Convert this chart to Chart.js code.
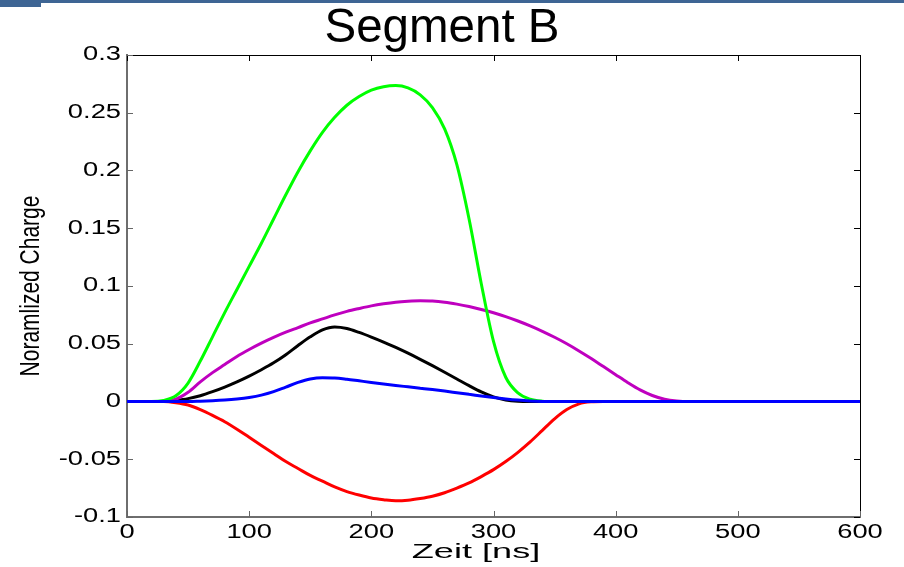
<!DOCTYPE html>
<html>
<head>
<meta charset="utf-8">
<script src="https://cdn.jsdelivr.net/npm/chart.js@4.4.1/dist/chart.umd.min.js"></script>
<style>
  html, body { margin: 0; padding: 0; background: #ffffff; }
  #wrap { position: relative; width: 904px; height: 567px; overflow: hidden; }
  #topline { position: absolute; left: 0; top: 0; width: 904px; height: 3px; background: #3e6594; }
  #topblock { position: absolute; left: 0; top: 0; width: 41px; height: 7px; background: #3e6594; }
  canvas { position: absolute; left: 0; top: 0; }
</style>
</head>
<body>
<div id="wrap">
  <canvas id="chart" width="904" height="567"></canvas>
  <div id="topline"></div>
  <div id="topblock"></div>
</div>
<script>
// Sampling times (ns)
const timeNs = [0,10,20,30,40,50,60,70,80,90,100,110,120,130,140,150,160,170,180,190,200,
  210,220,230,240,250,260,270,280,290,300,310,320,330,340,350,360,370,380,390,400,
  410,420,430,440,450,460,480,500,550,600];

// Normalized charge per electrode
const chargeGreen = [0,0,0,0.001,0.005,0.016,0.035,0.056,0.077,0.097,0.117,0.137,0.158,0.179,0.199,0.217,
  0.233,0.246,0.2565,0.264,0.2695,0.2725,0.2735,0.2715,0.2655,0.2545,0.236,0.205,0.158,0.102,0.052,0.021,
  0.0075,0.002,0.0003,0,0,0,0,0,0,0,0,0,0,0,0,0,0,0,0];
const chargeMagenta = [0,0,0,0,0.002,0.008,0.017,0.025,0.032,0.039,0.045,0.0505,0.0555,0.06,0.064,0.068,
  0.0715,0.075,0.078,0.0805,0.0828,0.0846,0.086,0.0868,0.0872,0.087,0.086,0.0843,0.0822,0.0797,0.0768,
  0.0735,0.0697,0.0655,0.0608,0.0556,0.05,0.0438,0.0372,0.0302,0.0232,0.0163,0.01,0.0052,0.002,0.0005,
  0,0,0,0,0];
const chargeBlack = [0,0,0,0,0.001,0.0025,0.005,0.0085,0.0125,0.017,0.022,0.0275,0.0335,0.0405,0.0485,
  0.056,0.062,0.0645,0.0632,0.0598,0.0558,0.0515,0.0468,0.0418,0.0365,0.031,0.0253,0.0195,0.0137,0.0083,
  0.004,0.0013,0.0002,0,0,0,0,0,0,0,0,0,0,0,0,0,0,0,0,0,0];
const chargeBlue = [0,0,0,0,0,0,0.0003,0.0007,0.0013,0.0022,0.0035,0.0055,0.0085,0.0125,0.0165,0.0195,
  0.0206,0.0204,0.0193,0.0179,0.0165,0.0152,0.0139,0.0127,0.0115,0.0103,0.009,0.0076,0.0062,0.0048,0.0034,
  0.0022,0.0012,0.0005,0.0001,0,0,0,0,0,0,0,0,0,0,0,0,0,0,0,0];
const chargeRed = [0,0,0,0,-0.001,-0.003,-0.007,-0.012,-0.0175,-0.024,-0.031,-0.038,-0.045,-0.052,-0.058,
  -0.064,-0.069,-0.074,-0.078,-0.081,-0.0835,-0.085,-0.086,-0.0855,-0.084,-0.082,-0.079,-0.075,-0.0705,
  -0.065,-0.059,-0.052,-0.044,-0.035,-0.025,-0.015,-0.007,-0.002,-0.0003,0,0,0,0,0,0,0,0,0,0,0,0];

// Axis ticks and their labels
const xTickValues = [0,100,200,300,400,500,600];
const xTickLabels = ['0','100','200','300','400','500','600'];
const yTickValues = [-0.1,-0.05,0,0.05,0.1,0.15,0.2,0.25,0.3];
const yTickLabels = ['-0.1','-0.05','0','0.05','0.1','0.15','0.2','0.25','0.3'];

const titleText = 'Segment B';
const xAxisTitle = 'Zeit [ns]';
const yAxisTitle = 'Noramlized Charge';

const toPoints = (ys) => timeNs.map((t, i) => ({ x: t, y: ys[i] }));

const FONT = '"Liberation Sans", Arial, Helvetica, sans-serif';
const STRETCH = 1.4;

function stretchedText(ctx, text, x, y, size, align, sx, rot) {
  ctx.save();
  ctx.translate(x, y);
  ctx.scale(sx, 1);
  if (rot) ctx.rotate(rot);
  ctx.font = size + 'px ' + FONT;
  ctx.fillStyle = '#000000';
  ctx.textAlign = align;
  ctx.textBaseline = 'middle';
  ctx.fillText(text, 0, 0);
  ctx.restore();
}

// Box outline, inward tick marks and all figure text
const frame = {
  id: 'frame',
  beforeDatasetsDraw(chart) {
    const { ctx, chartArea: a, scales: { x, y } } = chart;
    ctx.save();
    ctx.lineWidth = 1;
    ctx.strokeStyle = '#000000';
    ctx.beginPath();
    ctx.moveTo(a.left, a.top + 0.5);
    ctx.lineTo(a.right + 0.5, a.top + 0.5);
    ctx.lineTo(a.right + 0.5, a.bottom);
    ctx.stroke();
    const len = 6;
    xTickValues.forEach(v => {
      const px = Math.round(x.getPixelForValue(v)) + 0.5;
      ctx.strokeStyle = '#666666';
      ctx.beginPath(); ctx.moveTo(px, a.bottom); ctx.lineTo(px, a.bottom - len); ctx.stroke();
      ctx.strokeStyle = '#000000';
      ctx.beginPath(); ctx.moveTo(px, a.top); ctx.lineTo(px, a.top + len); ctx.stroke();
    });
    yTickValues.forEach(v => {
      const py = Math.round(y.getPixelForValue(v)) + 0.5;
      ctx.strokeStyle = '#666666';
      ctx.beginPath(); ctx.moveTo(a.left, py); ctx.lineTo(a.left + len, py); ctx.stroke();
      ctx.strokeStyle = '#000000';
      ctx.beginPath(); ctx.moveTo(a.right, py); ctx.lineTo(a.right - len, py); ctx.stroke();
    });
    ctx.restore();
  },
  afterDraw(chart) {
    const { ctx, chartArea: a, scales: { x, y } } = chart;
    xTickValues.forEach((v, i) => {
      stretchedText(ctx, xTickLabels[i], x.getPixelForValue(v), a.bottom + 16, 19.5, 'center', STRETCH);
    });
    yTickValues.forEach((v, i) => {
      stretchedText(ctx, yTickLabels[i], a.left - 6, y.getPixelForValue(v), 19.5, 'right', STRETCH);
    });
    stretchedText(ctx, xAxisTitle, 476, 552, 21, 'center', 1.72);
    stretchedText(ctx, yAxisTitle, 31, (a.top + a.bottom) / 2, 21, 'center', 1.3, -Math.PI / 2);
    stretchedText(ctx, titleText, 442, 29, 47.5, 'center', 1);
  }
};

const line = (data, color, order) => ({
  data: toPoints(data),
  borderColor: color,
  backgroundColor: color,
  borderWidth: 3,
  pointRadius: 0,
  fill: false,
  cubicInterpolationMode: 'monotone',
  order
});

new Chart(document.getElementById('chart'), {
  type: 'line',
  data: {
    datasets: [
      line(chargeBlue, '#0000ff', 0),
      line(chargeGreen, '#00ff00', 1),
      line(chargeMagenta, '#bf00bf', 2),
      line(chargeBlack, '#000000', 3),
      line(chargeRed, '#ff0000', 4)
    ]
  },
  options: {
    responsive: false,
    animation: false,
    devicePixelRatio: 1,
    layout: { padding: { left: 0, right: 44, top: 55, bottom: 0 } },
    plugins: { legend: { display: false }, title: { display: false }, tooltip: { enabled: false } },
    scales: {
      x: {
        type: 'linear', min: 0, max: 600,
        ticks: { display: false, stepSize: 100 },
        grid: { display: false },
        border: { display: true, color: '#6e6e6e', width: 2 },
        afterFit: (s) => { s.height = 50; }
      },
      y: {
        type: 'linear', min: -0.1, max: 0.3,
        ticks: { display: false, stepSize: 0.05 },
        grid: { display: false },
        border: { display: true, color: '#6e6e6e', width: 2 },
        afterFit: (s) => { s.width = 127; }
      }
    }
  },
  plugins: [frame]
});
</script>
</body>
</html>
